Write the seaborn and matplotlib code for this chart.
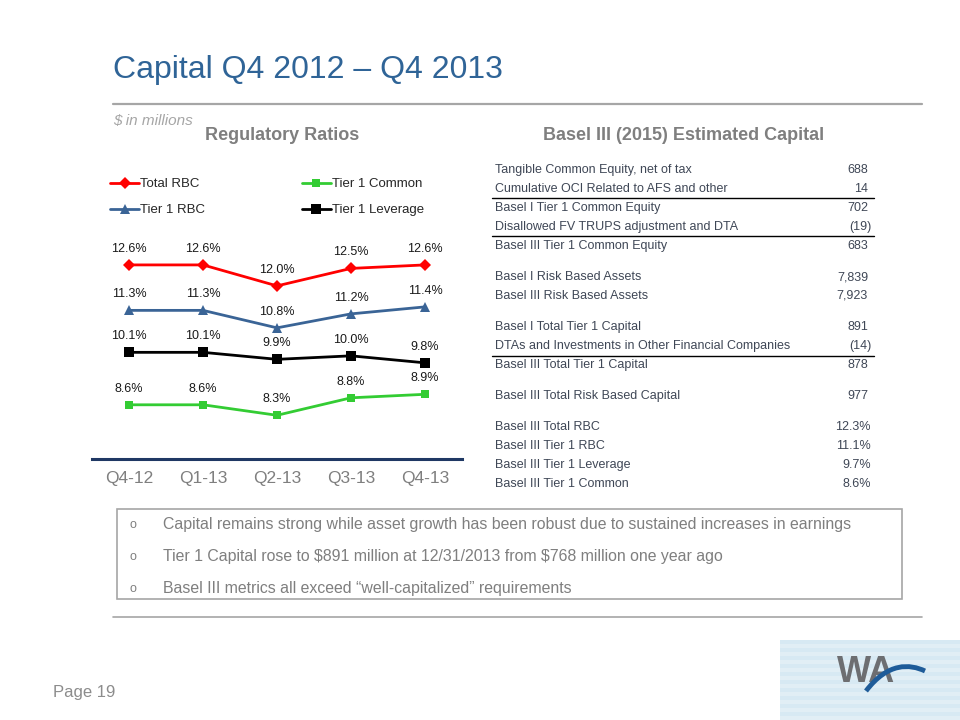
import numpy as np
import pandas as pd
import matplotlib.pyplot as plt
import seaborn as sns
from matplotlib.path import Path
from matplotlib.patches import PathPatch, Rectangle

# chart data
quarters = ["Q4-12", "Q1-13", "Q2-13", "Q3-13", "Q4-13"]
total_rbc = [12.6, 12.6, 12.0, 12.5, 12.6]
tier1_rbc = [11.3, 11.3, 10.8, 11.2, 11.4]
tier1_common = [8.6, 8.6, 8.3, 8.8, 8.9]
tier1_leverage = [10.1, 10.1, 9.9, 10.0, 9.8]

series_names = ["Total RBC", "Tier 1 RBC", "Tier 1 Common", "Tier 1 Leverage"]
series_values = [total_rbc, tier1_rbc, tier1_common, tier1_leverage]
series_colors = ["#FF0000", "#3A6496", "#33CC33", "#000000"]
series_markers = ["D", "^", "s", "s"]
series_msize = [6.5, 6.5, 5.5, 7.5]

# table on the right
table_labels = [
    "Tangible Common Equity, net of tax",
    "Cumulative OCI Related to AFS and other",
    "Basel I Tier 1 Common Equity",
    "Disallowed FV TRUPS adjustment and DTA",
    "Basel III Tier 1 Common Equity",
    "Basel I Risk Based Assets",
    "Basel III Risk Based Assets",
    "Basel I Total Tier 1 Capital",
    "DTAs and Investments in Other Financial Companies",
    "Basel III Total Tier 1 Capital",
    "Basel III Total Risk Based Capital",
    "Basel III Total RBC",
    "Basel III Tier 1 RBC",
    "Basel III Tier 1 Leverage",
    "Basel III Tier 1 Common",
]
table_values = ["688", "14", "702", "(19)", "683", "7,839", "7,923", "891", "(14)",
                "878", "977", "12.3%", "11.1%", "9.7%", "8.6%"]

bullets = [
    "Capital remains strong while asset growth has been robust due to sustained increases in earnings",
    "Tier 1 Capital rose to \\$891 million at 12/31/2013 from \\$768 million one year ago",
    "Basel III metrics all exceed \u201cwell-capitalized\u201d requirements",
]

sns.set_theme(style="white")
plt.rcParams["font.family"] = ["Liberation Sans", "DejaVu Sans"]

fig = plt.figure(figsize=(9.6, 7.2), dpi=100)

# page-level axes in pixel coords for the slide decorations
bg = fig.add_axes([0, 0, 1, 1])
bg.set_xlim(0, 960)
bg.set_ylim(720, 0)
bg.axis("off")

bg.text(113, 70, "Capital Q4 2012 \u2013 Q4 2013", fontsize=23, color="#2F6497",
        ha="left", va="center")
bg.plot([113, 922], [104, 104], color="#A6A6A6", lw=1.6)
bg.text(113, 121, "\\$ in millions", fontsize=11, style="italic", color="#A6A6A6",
        ha="left", va="center")
bg.text(282, 136, "Regulatory Ratios", fontsize=13, fontweight="bold", color="#7F7F7F",
        ha="center", va="center")
bg.text(684, 136, "Basel III (2015) Estimated Capital", fontsize=13, fontweight="bold",
        color="#7F7F7F", ha="center", va="center")

# table
row_y = [170, 189, 208, 227, 246, 277, 296, 327, 346, 365, 396, 427, 446, 465, 484]
tcol = "#3F4756"
for lab, val, y in zip(table_labels, table_values, row_y):
    bg.text(495, y, lab, fontsize=9, color=tcol, ha="left", va="center")
    if val.endswith(")"):
        xr = 872
    elif val.endswith("%"):
        xr = 871
    else:
        xr = 868
    bg.text(xr, y, val, fontsize=9, color=tcol, ha="right", va="center")
for y in [198, 236, 356]:
    bg.plot([492, 874], [y, y], color="black", lw=1.0)

# bullet box
bg.add_patch(Rectangle((117, 509), 785, 90, fill=False, edgecolor="#A6A6A6", lw=1.2))
for txt, y in zip(bullets, [525, 557, 589]):
    bg.text(133, y, "o", fontsize=9, color="#7F7F7F", ha="center", va="center")
    bg.text(163, y, txt, fontsize=11.4, color="#7F7F7F", ha="left", va="center")
bg.plot([113, 922], [617, 617], color="#A6A6A6", lw=1.2)

bg.text(53, 692, "Page 19", fontsize=12, color="#8C8C8C", ha="left", va="center")

# logo with faint stripes
stripes = np.tile(((np.arange(40) % 4) < 2).astype(float)[:, None], (1, 10))
bg.imshow(stripes, extent=(780, 960, 720, 640), cmap="Blues", vmin=-4, vmax=8,
          alpha=0.35, aspect="auto", zorder=0)
bg.text(866, 673, "WA", fontsize=26, fontweight="bold", color="#6D6E71",
        ha="center", va="center", zorder=2)
arc = Path([(866, 691), (888, 662), (910, 664), (925, 671)],
           [Path.MOVETO, Path.CURVE4, Path.CURVE4, Path.CURVE4])
bg.add_patch(PathPatch(arc, fill=False, edgecolor="#1F5C99", lw=3.5, zorder=3))

# line chart
ax = fig.add_axes([92 / 960, 1 - 459 / 720, 370 / 960, 299 / 720])
ax.patch.set_alpha(0)
for name, vals, c, m, ms in zip(series_names, series_values, series_colors,
                                series_markers, series_msize):
    d = pd.DataFrame({"quarter": quarters, "value": vals})
    sns.lineplot(data=d, x="quarter", y="value", color=c, marker=m, markersize=ms,
                 markeredgewidth=0, linewidth=2.0, label=name, ax=ax)
    for i, v in enumerate(vals):
        ax.annotate(f"{v:.1f}%", (i, v), xytext=(0, 11.5), textcoords="offset points",
                    ha="center", va="center", fontsize=9, color="#1A1A1A")

ax.set_xlim(-0.5, 4.5)
ax.set_ylim(7.05, 15.6)
ax.set_xlabel("")
ax.set_ylabel("")
ax.set_yticks([])
ax.tick_params(axis="x", length=0, pad=9, labelsize=12.5, labelcolor="#7F7F7F")
for s in ["top", "left", "right"]:
    ax.spines[s].set_visible(False)
ax.spines["bottom"].set_color("#1F3864")
ax.spines["bottom"].set_linewidth(2.2)

ax.legend(ncol=2, loc="upper left", bbox_to_anchor=(0.049, 0.94), frameon=False,
          fontsize=9.5, handlelength=2.2, handletextpad=0.1, columnspacing=7.3,
          labelspacing=1.05, borderpad=0, borderaxespad=0)

fig.savefig("out.png", dpi=100)
